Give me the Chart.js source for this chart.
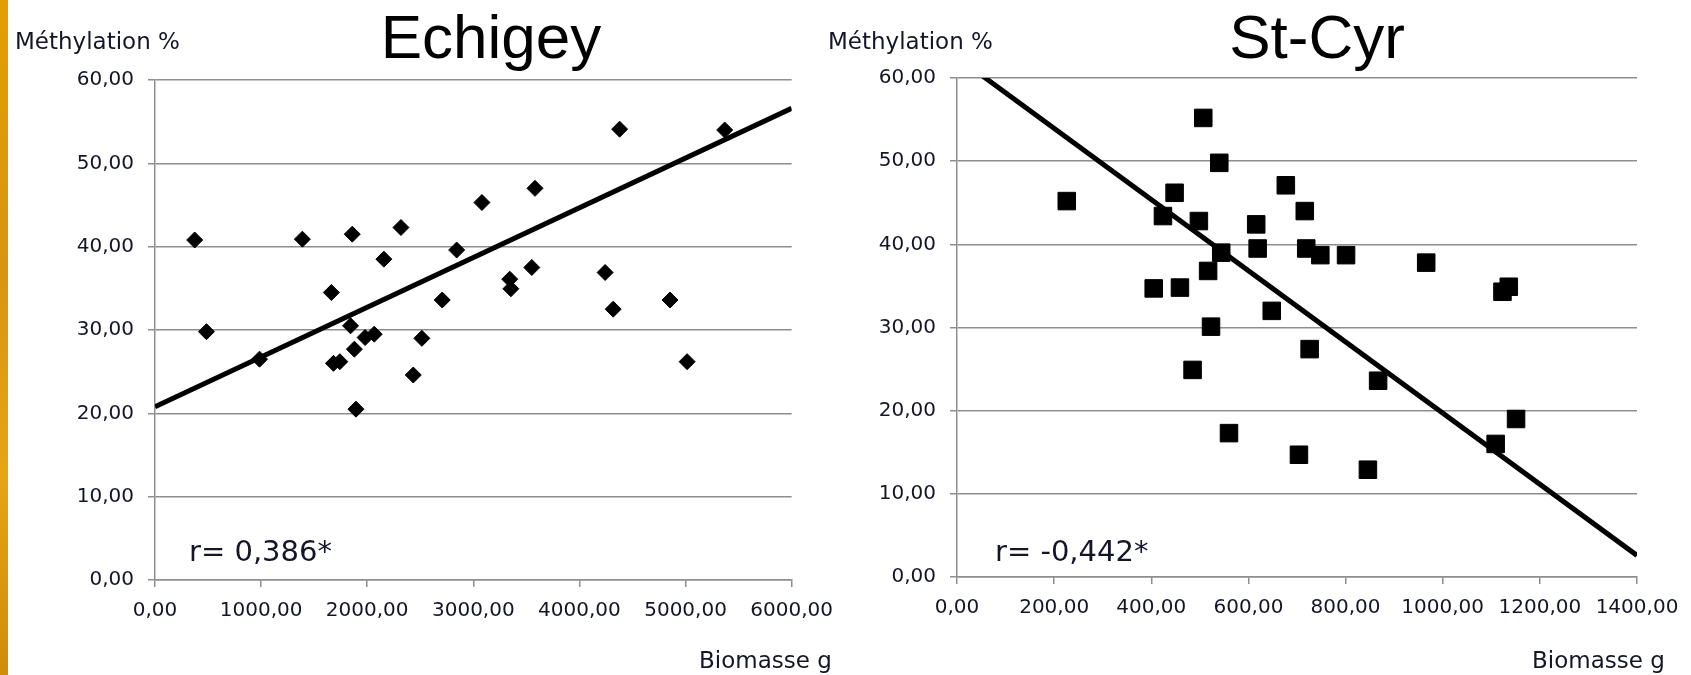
<!DOCTYPE html>
<html>
<head>
<meta charset="utf-8">
<script src="https://cdn.jsdelivr.net/npm/chart.js@4.4.1/dist/chart.umd.min.js"></script>
<style>
  html, body { margin: 0; padding: 0; background: #ffffff; }
  #wrap { position: relative; width: 1691px; height: 675px; overflow: hidden; background: #ffffff; }
  #strip { position: absolute; left: 0; top: 0; width: 8px; height: 675px;
           background: linear-gradient(180deg, #e2a000 0%, #d89510 40%, #e6a514 70%, #cf8d08 100%); }
  canvas { position: absolute; top: 0; }
  #c1 { left: 0px; }
  #c2 { left: 800px; }
</style>
</head>
<body>
<div id="wrap">
  <div id="strip"></div>
  <canvas id="c1" width="845" height="675"></canvas>
  <canvas id="c2" width="891" height="675"></canvas>
</div>
<script>
// ---- Data ----
const echigeyBiomass = [374, 485, 985, 1389, 1662, 1682, 1742, 1843, 1859, 1879, 1894, 1980, 2066, 2157, 2318, 2434, 2515, 2707, 2843, 3081, 3343, 3354, 3551, 3581, 4242, 4318, 4379, 4854, 5015, 5369];
const echigeyMethylation = [40.8, 29.8, 26.5, 40.9, 34.5, 26.0, 26.2, 30.5, 41.5, 27.7, 20.5, 29.1, 29.5, 38.5, 42.3, 24.6, 29.0, 33.6, 39.6, 45.3, 36.1, 34.95, 37.5, 47.0, 36.9, 32.5, 54.1, 33.6, 26.2, 54.0];
const echigeyTrendX = [0, 6000];
const echigeyTrendY = [20.8, 56.6];

const stcyrBiomass = [226, 405, 424, 448, 459, 485, 498, 507, 517, 523, 540, 544, 560, 616, 619, 648, 677, 704, 716, 719, 726, 748, 801, 846, 867, 966, 1109, 1123, 1136, 1151];
const stcyrMethylation = [45.2, 34.7, 43.4, 46.2, 34.8, 24.9, 42.8, 55.2, 36.8, 30.1, 49.8, 39.0, 17.3, 42.4, 39.5, 32.0, 47.1, 14.7, 44.0, 39.5, 27.4, 38.7, 38.7, 12.9, 23.6, 37.8, 16.0, 34.3, 34.9, 19.0];
const stcyrTrendX = [0, 1400];
const stcyrTrendY = [62.5, 2.6];

const yTicks = [0, 10, 20, 30, 40, 50, 60];
const echigeyXTicks = [0, 1000, 2000, 3000, 4000, 5000, 6000];
const stcyrXTicks = [0, 200, 400, 600, 800, 1000, 1200, 1400];

const titles = ['Echigey', 'St-Cyr'];
const rTexts = ['r= 0,386*', 'r= -0,442*'];
const yTitle = 'Méthylation %';
const xTitle = 'Biomasse g';

// ---- helpers ----
const fmt = v => Number(v).toFixed(2).replace('.', ',');
const pts = (xs, ys) => xs.map((x, i) => ({ x: x, y: ys[i] }));
const TICK_FONT = { family: 'DejaVu Sans', size: 20 };
const TICK_COLOR = '#15152a';
const GRID_COLOR = '#8e8e8e';

function textPlugin(cfg) {
  return {
    id: 'texts',
    afterDraw(chart) {
      const ctx = chart.ctx;
      ctx.save();
      ctx.fillStyle = '#000000';
      ctx.font = '62px "Liberation Sans", Arial, sans-serif';
      ctx.textAlign = 'center';
      ctx.textBaseline = 'alphabetic';
      ctx.fillText(cfg.title, cfg.titleX, 58);

      ctx.fillStyle = '#15152a';
      ctx.font = '23px "DejaVu Sans", sans-serif';
      ctx.textAlign = 'left';
      ctx.textBaseline = 'middle';
      ctx.fillText(yTitle, cfg.yTitleX, 43);
      ctx.fillText(xTitle, cfg.xTitleX, 662);

      ctx.font = '29px "DejaVu Sans", sans-serif';
      ctx.textBaseline = 'alphabetic';
      ctx.fillText(cfg.r, cfg.rX, 561);
      ctx.restore();
    }
  };
}

function makeChart(id, opt) {
  const yWidth = opt.yWidth, xHeight = opt.xHeight;
  return new Chart(document.getElementById(id), {
    type: 'scatter',
    data: {
      datasets: [
        {
          label: 'points',
          data: pts(opt.xs, opt.ys),
          pointStyle: opt.pointStyle,
          pointRadius: opt.pointRadius,
          backgroundColor: '#000000',
          borderColor: '#000000',
          borderWidth: 1,
          order: 1
        },
        {
          type: 'line',
          label: 'trend',
          data: pts(opt.tx, opt.ty),
          showLine: true,
          borderColor: '#000000',
          borderWidth: 5,
          pointRadius: 0,
          fill: false,
          clip: 0,
          order: 0
        }
      ]
    },
    options: {
      responsive: false,
      animation: false,
      devicePixelRatio: 1,
      layout: { padding: { left: 0, right: opt.padRight, top: opt.padTop, bottom: 0 } },
      plugins: { legend: { display: false }, tooltip: { enabled: false }, title: { display: false } },
      scales: {
        x: {
          type: 'linear',
          min: opt.xTicks[0],
          max: opt.xTicks[opt.xTicks.length - 1],
          afterBuildTicks: s => { s.ticks = opt.xTicks.map(v => ({ value: v })); },
          afterFit: s => { s.height = xHeight; },
          ticks: { callback: v => fmt(v), font: TICK_FONT, color: TICK_COLOR, padding: 12, maxRotation: 0, autoSkip: false },
          grid: { drawOnChartArea: false, drawTicks: true, tickLength: 7, color: GRID_COLOR, lineWidth: 1.5 },
          border: { display: true, color: GRID_COLOR, width: 1.5 }
        },
        y: {
          type: 'linear',
          min: yTicks[0],
          max: yTicks[yTicks.length - 1],
          afterBuildTicks: s => { s.ticks = yTicks.map(v => ({ value: v })); },
          afterFit: s => { s.width = yWidth; },
          ticks: { callback: v => fmt(v), font: TICK_FONT, color: TICK_COLOR, padding: 14, autoSkip: false },
          grid: { drawOnChartArea: true, drawTicks: true, tickLength: 7, color: GRID_COLOR, lineWidth: 1.5 },
          border: { display: true, color: GRID_COLOR, width: 1.5 }
        }
      }
    },
    plugins: [textPlugin(opt.text)]
  });
}

makeChart('c1', {
  xs: echigeyBiomass, ys: echigeyMethylation, tx: echigeyTrendX, ty: echigeyTrendY,
  xTicks: echigeyXTicks, pointStyle: 'rectRot', pointRadius: 8,
  yWidth: 155, xHeight: 95, padRight: 845 - 796, padTop: 80,
  text: { title: titles[0], titleX: 491, yTitleX: 15, xTitleX: 699, r: rTexts[0], rX: 189 }
});

makeChart('c2', {
  xs: stcyrBiomass, ys: stcyrMethylation, tx: stcyrTrendX, ty: stcyrTrendY,
  xTicks: stcyrXTicks, pointStyle: 'rect', pointRadius: 12.4,
  yWidth: 157, xHeight: 98, padRight: 891 - 837, padTop: 78,
  text: { title: titles[1], titleX: 517, yTitleX: 28, xTitleX: 732, r: rTexts[1], rX: 195 }
});
</script>
</body>
</html>
